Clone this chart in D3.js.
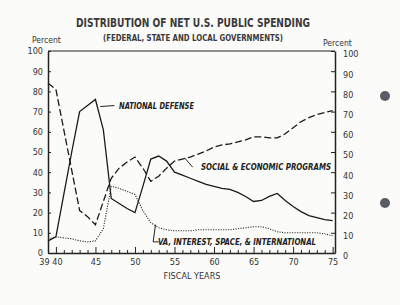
<!DOCTYPE html>
<html>
<head>
<meta charset="utf-8">
<script src="https://cdn.jsdelivr.net/npm/d3@7"></script>
<style>
  body { margin: 0; background: #fbfbf9; }
  svg { display: block; }
  .tick text { font-family: "DejaVu Sans Condensed", "DejaVu Sans", sans-serif; font-stretch: condensed; font-size: 9px; fill: #333; }
  .axis path, .axis line { stroke: #222; }
</style>
</head>
<body>
<script>
// Fiscal years 1939 - 1975, percent of net public spending
var years = d3.range(39, 76);

var defense = [6, 8, 29, 50, 70, 73, 76, 61, 27, 24.5, 22, 20, 33, 46.5, 48, 45.5, 40, 38.5, 37, 35.5,
               34, 33, 32, 31.5, 30, 28, 25.5, 26, 28, 29.5, 26, 23, 20.5, 18.5, 17.5, 16.5, 16];

var social = [84, 81, 61, 41, 21, 18, 14, 25.5, 37, 42, 45, 47.5, 42, 35.5, 38, 42, 45.5, 46.5, 47.5, 49,
              50.5, 52.5, 53.5, 54, 55, 56, 57.5, 57.5, 57, 57, 59, 62, 65, 67, 68.5, 69.5, 70.5];

var other = [7, 8, 7.5, 7, 6, 5.5, 6, 12, 33, 32, 30.5, 29, 21, 15, 12.5, 11.5, 11, 11, 11, 11.5,
             11.5, 11.5, 11.5, 11.5, 12, 12.5, 13, 13, 12, 10.5, 10, 10, 10, 10, 10, 9.5, 8.5];

var percentTicks = d3.range(0, 101, 10);
var yearLabels = [39, 40, 45, 50, 55, 60, 65, 70, 75];

var width = 400, height = 305;

var svg = d3.select("body").append("svg")
            .attr("width", width)
            .attr("height", height);

var xScale = d3.scaleLinear().domain([39, 75.3]).range([48, 335]),
    yScale = d3.scaleLinear().domain([0, 100]).range([253, 51]);

// Titles
svg.append("text")
   .attr("x", 193).attr("y", 27)
   .attr("text-anchor", "middle")
   .attr("textLength", 234).attr("lengthAdjust", "spacingAndGlyphs")
   .style("font-family", "DejaVu Sans Condensed, DejaVu Sans, sans-serif")
   .style("font-stretch", "condensed")
   .style("font-weight", "bold")
   .style("font-size", "12.5px")
   .style("fill", "#3a3a3a")
   .text("DISTRIBUTION OF NET U.S. PUBLIC SPENDING");

svg.append("text")
   .attr("x", 193).attr("y", 41)
   .attr("text-anchor", "middle")
   .attr("textLength", 180).attr("lengthAdjust", "spacingAndGlyphs")
   .style("font-family", "DejaVu Sans Condensed, DejaVu Sans, sans-serif")
   .style("font-weight", "bold")
   .style("font-size", "8.5px")
   .style("fill", "#3a3a3a")
   .text("(FEDERAL, STATE AND LOCAL GOVERNMENTS)");

svg.append("text")
   .attr("x", 32).attr("y", 43)
   .style("font-family", "DejaVu Sans Condensed, DejaVu Sans, sans-serif")
   .style("font-size", "8.5px").style("fill", "#333")
   .text("Percent");

svg.append("text")
   .attr("x", 323).attr("y", 46)
   .style("font-family", "DejaVu Sans Condensed, DejaVu Sans, sans-serif")
   .style("font-size", "8.5px").style("fill", "#333")
   .text("Percent");

// Frame top
svg.append("line")
   .attr("x1", xScale(39)).attr("x2", xScale(75.3))
   .attr("y1", yScale(100)).attr("y2", yScale(100))
   .style("stroke", "#222").style("stroke-width", 1.2);

// Axes
var yAxisL = d3.axisLeft(yScale).tickValues(percentTicks)
               .tickSizeInner(-3).tickSizeOuter(0).tickPadding(5);
var yAxisR = d3.axisRight(yScale).tickValues(percentTicks)
               .tickSizeInner(-4).tickSizeOuter(0).tickPadding(8);

svg.append("g").attr("class", "axis")
   .attr("transform", "translate(" + xScale(39) + ",0)")
   .call(yAxisL)
   .select(".domain").style("stroke-width", 1.5);

var gr = svg.append("g").attr("class", "axis")
   .attr("transform", "translate(" + xScale(75.3) + ",0)")
   .call(yAxisR);
gr.select(".domain").style("stroke-width", 1.5);
gr.selectAll(".tick text").attr("y", 3);

// Bottom axis: year ticks pointing up, labels below
var xAxis = d3.axisBottom(xScale).tickValues(d3.range(40, 76))
              .tickSizeInner(-3).tickSizeOuter(0).tickFormat(() => null);
var gx = svg.append("g").attr("class", "axis")
   .attr("transform", "translate(0," + yScale(0) + ")")
   .call(xAxis);
gx.select(".domain").style("stroke-width", 1.5);
gx.selectAll(".tick line")
  .attr("y2", d => d % 5 === 0 ? -6 : -3);

var xLab = d3.axisBottom(xScale).tickValues(yearLabels)
             .tickSize(0).tickPadding(6).tickFormat(d3.format("d"));
var gl = svg.append("g").attr("class", "axis")
   .attr("transform", "translate(0," + yScale(0) + ")")
   .call(xLab);
gl.select(".domain").remove();
gl.selectAll(".tick text").attr("dx", d => d === 39 ? -4 : (d === 40 ? 1 : 0));

svg.append("text")
   .attr("x", 192).attr("y", 279)
   .attr("text-anchor", "middle")
   .style("font-family", "DejaVu Sans Condensed, DejaVu Sans, sans-serif")
   .style("font-stretch", "condensed")
   .style("font-size", "9px").style("fill", "#333")
   .text("FISCAL YEARS");

// Lines
var line = d3.line()
    .x((d, i) => xScale(years[i]))
    .y(d => yScale(d));

svg.append("path").datum(defense)
   .attr("d", line)
   .style("fill", "none").style("stroke", "#1a1a1a").style("stroke-width", 1.3);

svg.append("path").datum(social)
   .attr("d", line)
   .style("fill", "none").style("stroke", "#1a1a1a").style("stroke-width", 1.3)
   .style("stroke-dasharray", "7,3");

svg.append("path").datum(other)
   .attr("d", line)
   .style("fill", "none").style("stroke", "#333").style("stroke-width", 1.1)
   .style("stroke-dasharray", "1.2,1.3");

// Series labels with leaders
var labelFont = "DejaVu Sans Condensed, DejaVu Sans, sans-serif";
function seriesLabel(txt, x, y, len) {
  svg.append("text")
     .attr("x", x).attr("y", y)
     .attr("textLength", len).attr("lengthAdjust", "spacingAndGlyphs")
     .style("font-family", labelFont)
     .style("font-weight", "bold").style("font-style", "italic")
     .style("font-size", "8px").style("fill", "#222")
     .text(txt);
}
function leader(pts) {
  svg.append("path")
     .attr("d", d3.line()(pts))
     .style("fill", "none").style("stroke", "#222").style("stroke-width", 1);
}

leader([[xScale(45.6), yScale(72.5)], [xScale(47.4), yScale(73)]]);
seriesLabel("NATIONAL DEFENSE", 119, 109, 75);

leader([[xScale(56.3), yScale(47)], [xScale(57.3), yScale(42.5)]]);
seriesLabel("SOCIAL & ECONOMIC PROGRAMS", 201, 170, 130);

leader([[xScale(52.6), yScale(14)], [xScale(52.3), yScale(5.5)], [xScale(53), yScale(5.5)]]);
seriesLabel("VA, INTEREST, SPACE, & INTERNATIONAL", 158, 245, 158);

// binder holes on the page
svg.selectAll(".hole").data([96, 203]).enter()
   .append("circle").attr("class", "hole")
   .attr("cx", 385).attr("cy", d => d).attr("r", 5)
   .style("fill", "#5a5d63");
</script>
</body>
</html>
